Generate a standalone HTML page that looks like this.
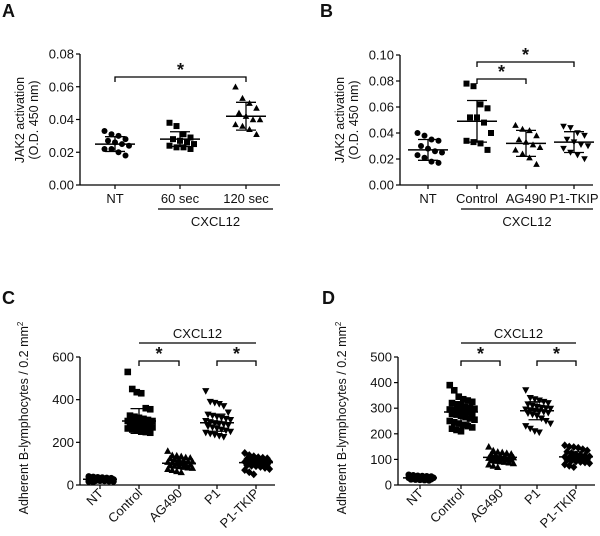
<!DOCTYPE html>
<html><head><meta charset="utf-8"><style>
html,body{margin:0;padding:0;background:#fff;}
svg{display:block;font-family:"Liberation Sans",Arial,sans-serif;}
</style></head><body>
<svg id="fig" width="600" height="536" viewBox="0 0 600 536"></svg>
<script>
// ---------- Panel A data ----------
const aCats = ["NT","60 sec","120 sec"];
const aNT = [0.033,0.031,0.030,0.028,0.027,0.026,0.025,0.024,0.022,0.022,0.020,0.018];
const a60 = [0.038,0.036,0.031,0.029,0.028,0.027,0.026,0.025,0.024,0.023,0.023,0.022];
const a120 = [0.060,0.053,0.050,0.047,0.044,0.042,0.040,0.040,0.037,0.036,0.034,0.031];
const aMeans = [0.025,0.028,0.042];
const aSDs = [0.0045,0.0045,0.0085];
const aTicks = [0,0.02,0.04,0.06,0.08];
const aTickLabels = ["0.00","0.02","0.04","0.06","0.08"];
// ---------- Panel B data ----------
const bCats = ["NT","Control","AG490","P1-TKIP"];
const bNT = [0.040,0.038,0.035,0.034,0.030,0.028,0.026,0.025,0.023,0.021,0.018,0.017];
const bCtrl = [0.078,0.076,0.062,0.059,0.052,0.052,0.048,0.040,0.034,0.033,0.032,0.027];
const bAG = [0.046,0.043,0.042,0.038,0.035,0.033,0.031,0.029,0.027,0.024,0.021,0.016];
const bTK = [0.045,0.044,0.040,0.038,0.035,0.033,0.031,0.030,0.028,0.025,0.023,0.020];
const bMeans = [0.027,0.049,0.032,0.033];
const bSDs = [0.008,0.016,0.010,0.008];
const bTicks = [0,0.02,0.04,0.06,0.08,0.10];
const bTickLabels = ["0.00","0.02","0.04","0.06","0.08","0.10"];
// ---------- Panel C data ----------
const cCats = ["NT","Control","AG490","P1","P1-TKIP"];
const cNT = [40,38,36,35,33,32,30,30,28,28,27,26,25,25,24,23,22,22,21,20,20,19,18,17,16,15];
const cCtrl = [530,450,435,430,360,355,325,320,315,310,305,300,300,295,292,290,288,285,282,280,278,275,272,270,265,260,255,250,248,245];
const cAG = [160,140,138,135,130,128,125,120,118,115,112,110,108,105,102,100,98,95,92,90,88,85,82,80,75,70,65,60];
const cP1 = [440,390,385,380,370,340,330,325,320,315,310,305,300,295,290,288,285,280,275,270,265,260,255,250,245,240,235,230,225];
const cTK = [150,140,135,130,128,125,122,120,118,115,112,110,108,105,102,100,98,95,92,90,88,85,80,75,70,60,50];
const cMeans = [27,300,102,292,105];
const cSDs = [6,58,20,40,18];
const cTicks = [0,200,400,600];
const cTickLabels = ["0","200","400","600"];
// ---------- Panel D data ----------
const dNT = [40,38,36,35,34,33,32,31,30,30,29,28,28,27,26,25,24,23,22,21,20,19,18];
const dCtrl = [390,370,345,335,330,325,320,315,310,305,300,298,295,292,290,288,285,280,278,275,270,265,260,255,250,245,240,235,230,225,220,215,210];
const dAG = [150,135,130,128,125,122,120,118,115,112,110,108,106,105,104,102,100,98,96,94,92,90,88,85,80,75,70];
const dP1 = [370,340,335,330,325,320,315,310,305,302,300,298,295,292,290,288,285,282,280,275,270,260,250,240,230,220,210,205];
const dTK = [155,150,148,145,140,135,130,125,120,118,115,112,110,108,106,104,102,100,98,95,92,90,88,85,80,75,70];
const dMeans = [28,285,108,290,110];
const dSDs = [6,40,15,35,20];
const dTicks = [0,100,200,300,400,500];
const dTickLabels = ["0","100","200","300","400","500"];

const NS="http://www.w3.org/2000/svg";
const svg=document.getElementById('fig');
function mk(tag,attrs,parent){const e=document.createElementNS(NS,tag);for(const k in attrs)e.setAttribute(k,attrs[k]);(parent||svg).appendChild(e);return e;}
function txt(s,x,y,attrs,parent){const t=mk('text',Object.assign({x:x,y:y,fill:'#111'},attrs),parent);t.textContent=s;return t;}

function marker(g,shape,x,y,r){
  let e;
  if(shape==='circle'){e=mk('circle',{cx:x,cy:y,r:r,fill:'#000'},g);}
  else if(shape==='square'){e=mk('rect',{x:x-r,y:y-r,width:2*r,height:2*r,fill:'#000'},g);}
  else if(shape==='up'){e=mk('polygon',{points:`${x},${y-r*1.1} ${x-r*1.1},${y+r*0.9} ${x+r*1.1},${y+r*0.9}`,fill:'#000'},g);}
  else if(shape==='down'){e=mk('polygon',{points:`${x},${y+r*1.1} ${x-r*1.1},${y-r*0.9} ${x+r*1.1},${y-r*0.9}`,fill:'#000'},g);}
  else {e=mk('polygon',{points:`${x},${y-r*1.2} ${x+r*1.1},${y} ${x},${y+r*1.2} ${x-r*1.1},${y}`,fill:'#000'},g);}
  
  
}

function panel(o){
  const g=mk('g',{});
  
  
  const y=v=>o.y0+(o.y1-o.y0)*(v-o.vmin)/(o.vmax-o.vmin);
  const L=txt(o.letter,o.lx,o.ly,{'font-size':18,'font-weight':'bold'},g);
  
  const ya=mk('line',{x1:o.ax,y1:o.y1,x2:o.ax,y2:o.y0,stroke:'#000','stroke-width':1.3},g);
  
  const xa=mk('line',{x1:o.ax,y1:o.y0,x2:o.axEnd,y2:o.y0,stroke:'#000','stroke-width':1.3},g);
  
  o.ticks.forEach((t,i)=>{
    mk('line',{x1:o.ax-4,y1:y(t),x2:o.ax,y2:y(t),stroke:'#000','stroke-width':1.2},g);
    const tl=txt(o.tickLabels[i],o.ax-6,y(t)+4.5,{'font-size':13,'text-anchor':'end'},g);
    
  });
  o.ytitle.forEach((s,i)=>{
    const tx=o.ytx[i], ty=o.yty;
    const t=txt(s,tx,ty,{'font-size':o.ytsize,'text-anchor':'middle',transform:`rotate(-90 ${tx} ${ty})`},g);
    
    if(o.sup&&i===0){const ts=mk('tspan',{'font-size':8,dy:-5},t);ts.textContent='2';}
  });
  o.cats.forEach((c,i)=>{
    const cx=o.xs[i];
    mk('line',{x1:cx,y1:o.y0,x2:cx,y2:o.y0+4,stroke:'#000','stroke-width':1.2},g);
    let t;
    if(o.rot){t=txt(c,cx+4,o.y0+9,{'font-size':13,'text-anchor':'end',transform:`rotate(-45 ${cx+4} ${o.y0+9})`},g);}
    else{t=txt(c,cx,o.y0+18,{'font-size':13,'text-anchor':'middle'},g);}
    
    const vals=o.series[i];
    vals.forEach((v,j)=>{
      const col=o.cols, k=j%col;
      const off=(k-(col-1)/2)*o.sp + ((Math.floor(j/col))%2 ? o.sp/2:0);
      marker(g,o.shapes[i],cx+off,y(v),o.r);
    });
    const m=o.means[i], s=o.sds[i];
    const ml=mk('line',{x1:cx-o.mw,y1:y(m),x2:cx+o.mw,y2:y(m),stroke:'#000','stroke-width':1.5},g);
    
    mk('line',{x1:cx,y1:y(m+s),x2:cx,y2:y(m-s),stroke:'#000','stroke-width':1.3},g);
    mk('line',{x1:cx-o.mw/2,y1:y(m+s),x2:cx+o.mw/2,y2:y(m+s),stroke:'#000','stroke-width':1.3},g);
    mk('line',{x1:cx-o.mw/2,y1:y(m-s),x2:cx+o.mw/2,y2:y(m-s),stroke:'#000','stroke-width':1.3},g);
  });
  const cl=mk('line',{x1:o.cx1,y1:o.cly,x2:o.cx2,y2:o.cly,stroke:'#000','stroke-width':1.3},g);
  
  const ct=txt('CXCL12',(o.cx1+o.cx2)/2,o.cty,{'font-size':13,'text-anchor':'middle'},g);
  
  o.brackets.forEach(b=>{
    const p=mk('path',{d:`M${b[0]},${b[2]+5} V${b[2]} H${b[1]} V${b[2]+5}`,fill:'none',stroke:'#000','stroke-width':1.3},g);
    
    const st=txt('*',(b[0]+b[1])/2,b[2]-1,{'font-size':18,'font-weight':'bold','text-anchor':'middle'},g);
    
  });
}

panel({name:'panel-a',letter:'A',lx:2,ly:17,ax:80,axEnd:280,y0:185,y1:54,vmin:0,vmax:0.08,
  ticks:aTicks,tickLabels:aTickLabels,ytitle:['JAK2 activation','(O.D. 450 nm)'],ytx:[24,38],yty:120,ytsize:12.5,
  cats:aCats,xs:[115,180,246],series:[aNT,a60,a120],shapes:['circle','square','up'],means:aMeans,sds:aSDs,
  cols:4,sp:7,r:3,mw:20,cx1:158,cx2:273,cly:209,cty:226,brackets:[[115,246,77]]});
panel({name:'panel-b',letter:'B',lx:320,ly:17,ax:400,axEnd:593,y0:185,y1:55,vmin:0,vmax:0.10,
  ticks:bTicks,tickLabels:bTickLabels,ytitle:['JAK2 activation','(O.D. 450 nm)'],ytx:[344,358],yty:120,ytsize:12.5,
  cats:bCats,xs:[428,477,526,574],series:[bNT,bCtrl,bAG,bTK],shapes:['circle','square','up','down'],means:bMeans,sds:bSDs,
  cols:4,sp:7,r:3,mw:20,cx1:461,cx2:593,cly:209,cty:226,brackets:[[477,574,62],[477,526,79]]});
panel({name:'panel-c',letter:'C',lx:2,ly:304,ax:80,axEnd:275,y0:485,y1:357,vmin:0,vmax:600,
  ticks:cTicks,tickLabels:cTickLabels,ytitle:['Adherent B-lymphocytes / 0.2 mm'],ytx:[28],yty:418,ytsize:12.5,sup:true,rot:true,
  cats:cCats,xs:[100,139,179,217,256],series:[cNT,cCtrl,cAG,cP1,cTK],shapes:['circle','square','up','down','diamond'],means:cMeans,sds:cSDs,
  cols:6,sp:4.5,r:3.3,mw:17,cx1:139,cx2:256,cly:343,cty:338,brackets:[[139,179,361],[217,256,361]]});
panel({name:'panel-d',letter:'D',lx:322,ly:304,ax:398,axEnd:595,y0:485,y1:357,vmin:0,vmax:500,
  ticks:dTicks,tickLabels:dTickLabels,ytitle:['Adherent B-lymphocytes / 0.2 mm'],ytx:[346],yty:418,ytsize:12.5,sup:true,rot:true,
  cats:cCats,xs:[420,461,500,537,576],series:[dNT,dCtrl,dAG,dP1,dTK],shapes:['circle','square','up','down','diamond'],means:dMeans,sds:dSDs,
  cols:6,sp:4.5,r:3.3,mw:17,cx1:461,cx2:576,cly:343,cty:338,brackets:[[461,500,361],[537,576,361]]});
</script>
</body></html>
